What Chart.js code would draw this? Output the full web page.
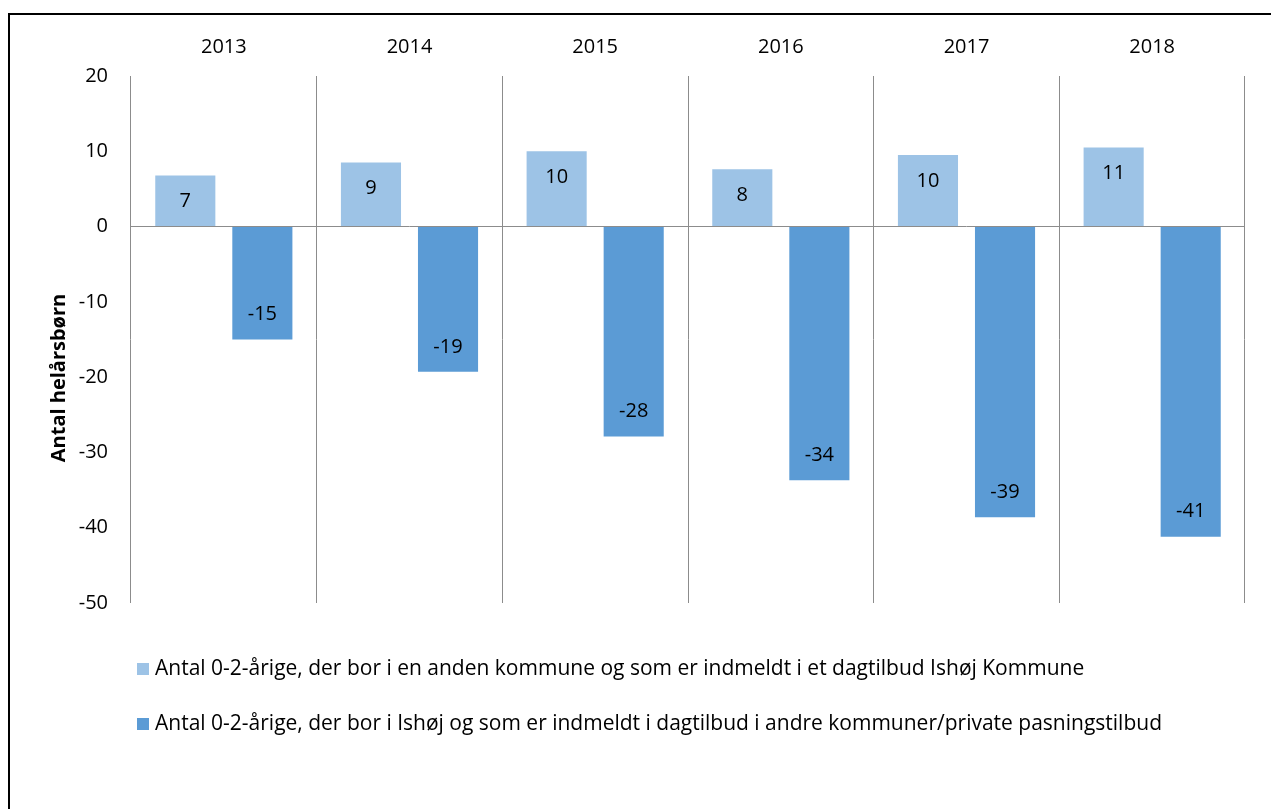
<!DOCTYPE html>
<html lang="da">
<head>
<meta charset="utf-8">
<title>Antal helårsbørn 2013-2018</title>
<script src="https://cdn.jsdelivr.net/npm/chart.js@4.4.1/dist/chart.umd.min.js"></script>
<style>
    html, body { margin: 0; padding: 0; background: #fff; overflow: hidden; }
    body { width: 1271px; height: 809px; position: relative; }
    .ramme { position: absolute; left: 8px; top: 13px; width: 1300px; height: 900px; border: 2px solid #000; box-sizing: border-box; }
    .diagram { position: absolute; left: 10px; top: 15px; width: 1261px; height: 794px; }
</style>
</head>
<body>
<div class="ramme"></div>
<div class="diagram"><canvas id="chartBorn"></canvas></div>
<script>
const aar = ['2013', '2014', '2015', '2016', '2017', '2018'];
const indmeldtIshoj = [6.8, 8.5, 10.0, 7.6, 9.5, 10.5];
const indmeldtAndre = [-15.0, -19.3, -27.9, -33.7, -38.6, -41.2];
const serieNavne = [
    'Antal 0-2-årige, der bor i en anden kommune og som er indmeldt i et dagtilbud Ishøj Kommune',
    'Antal 0-2-årige, der bor i Ishøj og som er indmeldt i dagtilbud i andre kommuner/private pasningstilbud'
];
const yTicks = [20, 10, 0, -10, -20, -30, -40, -50];
const yTitel = 'Antal helårsbørn';
const farver = ['#9DC3E6', '#5B9BD5'];

const FONT = '"Open Sans", Lato, sans-serif';

// tal inde i søjlerne
const vaerdiEtiketter = {
    id: 'vaerdiEtiketter',
    afterDatasetsDraw(chart) {
        const ctx = chart.ctx;
        ctx.save();
        ctx.font = '20px ' + FONT;
        ctx.fillStyle = '#000';
        ctx.textAlign = 'center';
        ctx.textBaseline = 'middle';
        chart.data.datasets.forEach((ds, i) => {
            chart.getDatasetMeta(i).data.forEach((bar, j) => {
                const v = ds.data[j];
                const y = v >= 0 ? bar.y + 26 : bar.y - 25;
                ctx.fillText(String(Math.round(v)), bar.x, y);
            });
        });
        ctx.restore();
    }
};

// legende som lodret liste under plotområdet + aksetitel lidt under midten som i Excel
const listeLegende = {
    id: 'listeLegende',
    afterDraw(chart) {
        const ctx = chart.ctx;
        const area = chart.chartArea;
        ctx.save();
        ctx.font = '21px ' + FONT;
        ctx.textBaseline = 'middle';
        chart.data.datasets.forEach((ds, i) => {
            const y = area.bottom + 66 + i * 55;
            ctx.fillStyle = ds.backgroundColor;
            ctx.fillRect(area.left + 6, y - 6, 12, 12);
            ctx.fillStyle = '#000';
            ctx.fillText(ds.label, area.left + 24, y);
        });

        ctx.translate(area.left - 72, area.top + 302);
        ctx.rotate(-Math.PI / 2);
        ctx.font = 'bold 20px ' + FONT;
        ctx.textAlign = 'center';
        ctx.fillText(yTitel, 0, 0);
        ctx.restore();
    }
};

document.addEventListener('DOMContentLoaded', function() {
    const ctx = document.getElementById('chartBorn').getContext('2d');
    new Chart(ctx, {
        type: 'bar',
        data: {
            labels: aar,
            datasets: [
                { label: serieNavne[0], data: indmeldtIshoj, backgroundColor: farver[0] },
                { label: serieNavne[1], data: indmeldtAndre, backgroundColor: farver[1] }
            ]
        },
        options: {
            responsive: true,
            maintainAspectRatio: false,
            animation: false,
            categoryPercentage: 0.83,
            barPercentage: 0.78,
            layout: { padding: { top: 0, left: 36, right: 26, bottom: 206 } },
            plugins: {
                legend: { display: false },
                tooltip: { enabled: false }
            },
            scales: {
                x: {
                    position: 'top',
                    afterFit: s => { s.height = 61; },
                    grid: { color: '#8c8c8c', lineWidth: 1, drawTicks: false },
                    border: { display: false },
                    ticks: { color: '#000', font: { family: FONT, size: 20 }, padding: 17 }
                },
                y: {
                    min: Math.min(...yTicks),
                    max: Math.max(...yTicks),
                    afterFit: s => { s.width = 85; },
                    afterBuildTicks: s => { s.ticks = yTicks.map(v => ({ value: v })); },
                    grid: {
                        drawTicks: false,
                        color: c => c.tick && c.tick.value === 0 ? '#8c8c8c' : 'rgba(0,0,0,0)'
                    },
                    border: { display: false },
                    ticks: { color: '#000', font: { family: FONT, size: 20 }, padding: 23 }
                }
            }
        },
        plugins: [vaerdiEtiketter, listeLegende]
    });
});
</script>
</body>
</html>
